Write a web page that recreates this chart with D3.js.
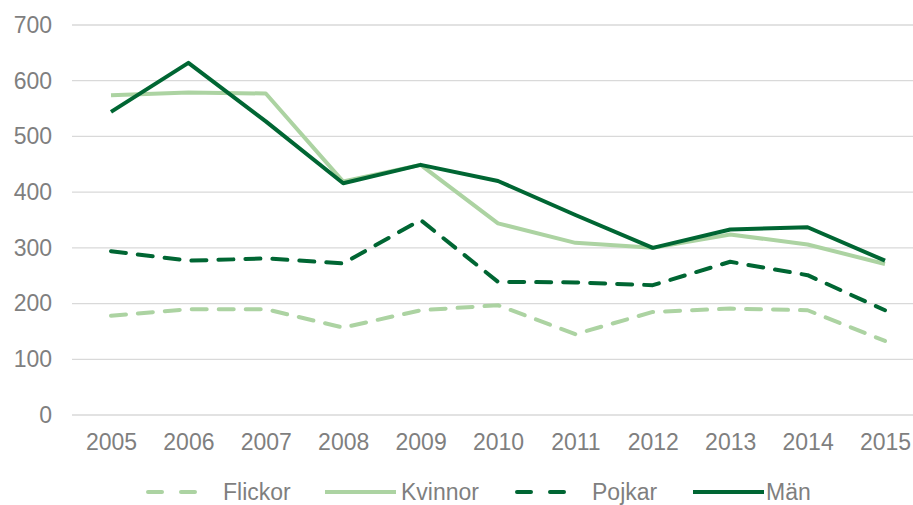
<!DOCTYPE html>
<html>
<head>
<meta charset="utf-8">
<script src="https://cdn.jsdelivr.net/npm/d3@7/dist/d3.min.js"></script>
<style>
  body { margin: 0; background: #fff; }
  text { font-family: "Liberation Sans", Arial, sans-serif; fill: #7f7f7f; }
</style>
</head>
<body>
<div id="chart"></div>
<script>
var years = [2005, 2006, 2007, 2008, 2009, 2010, 2011, 2012, 2013, 2014, 2015];
var flickor = [178, 190, 190, 157, 188, 197, 145, 185, 191, 188, 133];
var kvinnor = [574, 579, 577, 419, 449, 344, 309, 300, 324, 306, 271];
var pojkar  = [294, 277, 281, 272, 350, 239, 238, 233, 275, 251, 188];
var man     = [544, 632, 527, 416, 449, 420, 359, 300, 333, 337, 277];
var yTicks = [0, 100, 200, 300, 400, 500, 600, 700];

var svgWidth = 913;
var svgHeight = 505;
var margin = { top: 25, right: 0, bottom: 90, left: 72 };
var height = svgHeight - margin.top - margin.bottom;

var light = "#acd3a2";
var dark = "#006633";

var series = [
  { name: "Flickor", values: flickor, color: light, dash: "15,12" },
  { name: "Kvinnor", values: kvinnor, color: light, dash: null },
  { name: "Pojkar", values: pojkar, color: dark, dash: "15,12" },
  { name: "Män", values: man, color: dark, dash: null }
];

var svg = d3.select("#chart").append("svg")
  .attr("width", svgWidth)
  .attr("height", svgHeight);

var chartGroup = svg.append("g")
  .attr("transform", `translate(${margin.left}, ${margin.top})`);

// category axis, half a band of padding on each side
var xScale = d3.scalePoint()
  .domain(years)
  .range([39, 39 + 77.4 * 10]);

var yScale = d3.scaleLinear()
  .domain([0, 700])
  .range([height, 0]);

// gridlines
chartGroup.append("g")
  .selectAll("line")
  .data(yTicks)
  .enter()
  .append("line")
  .attr("x1", 0)
  .attr("x2", svgWidth - margin.left)
  .attr("y1", d => yScale(d))
  .attr("y2", d => yScale(d))
  .attr("stroke", "#d9d9d9")
  .attr("stroke-width", 1.3);

var leftAxis = d3.axisLeft(yScale).tickValues(yTicks).tickSize(0).tickPadding(20);
var yAxis = chartGroup.append("g").call(leftAxis);
yAxis.select(".domain").remove();
yAxis.selectAll("text").attr("font-size", 23).style("fill", "#7f7f7f");

var bottomAxis = d3.axisBottom(xScale).tickSize(0).tickPadding(19);
var xAxis = chartGroup.append("g")
  .attr("transform", `translate(0, ${height})`)
  .call(bottomAxis);
xAxis.select(".domain").remove();
xAxis.selectAll("text").attr("font-size", 23).style("fill", "#7f7f7f");

var line = d3.line()
  .x((d, i) => xScale(years[i]))
  .y(d => yScale(d));

chartGroup.selectAll(".series")
  .data(series)
  .enter()
  .append("path")
  .attr("class", "series")
  .attr("d", d => line(d.values))
  .attr("fill", "none")
  .attr("stroke", d => d.color)
  .attr("stroke-width", 4)
  .attr("stroke-linejoin", "round")
  .attr("stroke-linecap", d => d.dash ? "round" : "butt")
  .attr("stroke-dasharray", d => d.dash);

// legend
var legendX = [146, 325, 515, 693];
var textGap = [77, 76, 77, 73];
var legend = svg.append("g").attr("transform", "translate(0, 492)");
var items = legend.selectAll("g")
  .data(series)
  .enter()
  .append("g")
  .attr("transform", (d, i) => `translate(${legendX[i]}, 0)`);

items.append("line")
  .attr("x1", d => d.dash ? 2 : 0)
  .attr("x2", d => d.dash ? 50 : 71)
  .attr("y1", 0)
  .attr("y2", 0)
  .attr("stroke", d => d.color)
  .attr("stroke-width", 4)
  .attr("stroke-linecap", d => d.dash ? "round" : "butt")
  .attr("stroke-dasharray", d => d.dash ? "14,19" : null);

items.append("text")
  .attr("x", (d, i) => textGap[i])
  .attr("y", 0)
  .attr("dy", "0.35em")
  .attr("font-size", 23)
  .text(d => d.name);
</script>
</body>
</html>
